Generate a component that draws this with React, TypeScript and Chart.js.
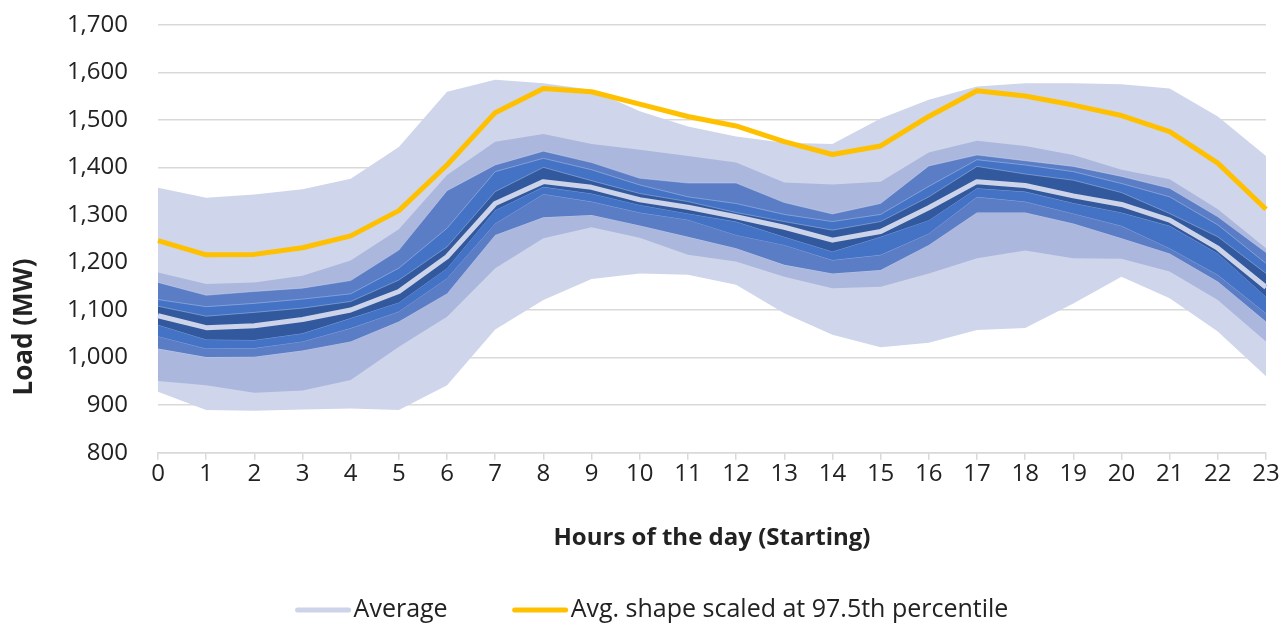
import React, { useEffect, useRef } from 'react';
import { Chart, registerables } from 'chart.js';

Chart.register(...registerables);

// ---------- data ----------
const hours = ['0','1','2','3','4','5','6','7','8','9','10','11','12','13','14','15','16','17','18','19','20','21','22','23'];

const band1Upper = [1357,1336,1343,1354,1376,1443,1559,1584,1577,1563,1518,1486,1465,1452,1449,1503,1542,1570,1577,1577,1575,1566,1507,1424];
const band2Upper = [1179,1155,1158,1172,1204,1270,1384,1454,1470,1449,1437,1424,1410,1368,1364,1370,1431,1456,1445,1426,1395,1375,1312,1230];
const band3Upper = [1158,1131,1139,1146,1162,1226,1351,1405,1434,1410,1377,1367,1367,1326,1302,1324,1403,1426,1414,1402,1381,1356,1296,1221];
const band4Upper = [1122,1107,1114,1123,1134,1188,1272,1391,1419,1395,1363,1338,1324,1301,1286,1301,1360,1416,1405,1391,1366,1338,1279,1198];
const band5Upper = [1108,1087,1095,1104,1118,1163,1233,1349,1400,1372,1345,1328,1305,1286,1268,1286,1338,1402,1386,1373,1347,1303,1254,1177];
const band5Lower = [1069,1038,1037,1051,1083,1116,1188,1310,1359,1345,1321,1303,1286,1254,1223,1254,1289,1356,1349,1325,1305,1277,1219,1128];
const band4Lower = [1045,1019,1020,1034,1062,1097,1167,1282,1344,1328,1305,1290,1258,1237,1205,1216,1261,1338,1328,1303,1277,1230,1174,1093];
const band3Lower = [1019,1001,1002,1015,1034,1076,1135,1258,1295,1300,1278,1254,1230,1195,1177,1184,1237,1305,1305,1282,1251,1219,1160,1076];
const band2Lower = [951,942,926,931,953,1023,1086,1188,1251,1274,1252,1216,1202,1170,1146,1149,1177,1209,1225,1209,1208,1181,1121,1034];
const band1Lower = [928,890,888,891,893,890,942,1059,1121,1165,1177,1174,1153,1093,1048,1022,1031,1058,1062,1114,1170,1125,1055,961];

const average = [1088,1063,1067,1080,1100,1139,1212,1324,1370,1358,1332,1316,1296,1274,1247,1265,1315,1370,1362,1340,1322,1289,1230,1148];
const scaledPeak = [1246,1216,1217,1231,1256,1309,1405,1515,1566,1559,1533,1507,1487,1454,1427,1445,1507,1561,1550,1531,1509,1475,1409,1312];

const seriesLabels = ['Average', 'Avg. shape scaled at 97.5th percentile'];
const xTitle = 'Hours of the day (Starting)';
const yTitle = 'Load (MW)';

// ---------- styling ----------
const FONT = '"Open Sans", sans-serif';
const TEXT = '#222222';
const GRID = '#D9D9D9';
const C1 = '#CFD5EA';
const C2 = '#ABB7DD';
const C3 = '#5A7DC6';
const C4 = '#4472C4';
const C5 = '#32599E';
const AVG = '#CDD4EA';
const YEL = '#FFC000';
const EDGE = 'rgba(225,232,248,0.45)';

const W = 1284;
const H = 623;

function bandPair(upper: number[], lower: number[], color: string, lowerIndex: number, order: number, edge: boolean) {
  return [
    {
      label: 'band',
      data: upper,
      borderColor: edge ? EDGE : 'transparent',
      borderWidth: edge ? 0.8 : 0,
      backgroundColor: color,
      fill: lowerIndex,
      pointRadius: 0,
      tension: 0,
      order,
    },
    {
      label: 'band',
      data: lower,
      borderColor: edge ? EDGE : 'transparent',
      borderWidth: edge ? 0.8 : 0,
      backgroundColor: color,
      fill: false,
      pointRadius: 0,
      tension: 0,
      order,
    },
  ];
}

const legendPlugin = {
  id: 'customLegend',
  afterDraw(chart: any) {
    const ctx = chart.ctx;
    const ds = chart.data.datasets;
    const items = [ds[1], ds[0]];
    ctx.save();
    ctx.font = `25px ${FONT}`;
    const sample = 55, gapText = 3, gapItem = 65;
    const widths = items.map((it: any) => sample + gapText + ctx.measureText(it.label).width);
    const total = widths.reduce((a: number, b: number) => a + b, 0) + gapItem * (items.length - 1);
    let x = 652 - total / 2;
    const y = 610;
    items.forEach((it: any, i: number) => {
      ctx.beginPath();
      ctx.strokeStyle = it.borderColor;
      ctx.lineWidth = 5;
      ctx.lineCap = 'round';
      ctx.moveTo(x + 2, y);
      ctx.lineTo(x + sample - 2, y);
      ctx.stroke();
      ctx.fillStyle = TEXT;
      ctx.textAlign = 'left';
      ctx.textBaseline = 'middle';
      ctx.fillText(it.label, x + sample + gapText, y);
      x += widths[i] + gapItem;
    });
    ctx.restore();
  },
};

const yTitlePlugin = {
  id: 'yTitle',
  afterDraw(chart: any) {
    const ctx = chart.ctx;
    ctx.save();
    ctx.translate(24.4, 327);
    ctx.rotate(-Math.PI / 2);
    ctx.font = `bold 26px ${FONT}`;
    ctx.fillStyle = TEXT;
    ctx.textAlign = 'center';
    ctx.textBaseline = 'middle';
    ctx.fillText(yTitle, 0, 0);
    ctx.restore();
  },
};

export default function App() {
  const ref = useRef<HTMLCanvasElement | null>(null);

  useEffect(() => {
    if (!ref.current) return;
    const datasets: any[] = [
      {
        label: seriesLabels[1],
        data: scaledPeak,
        borderColor: YEL,
        backgroundColor: YEL,
        borderWidth: 5,
        borderJoinStyle: 'round',
        pointRadius: 0,
        fill: false,
        tension: 0,
        order: 0,
      },
      {
        label: seriesLabels[0],
        data: average,
        borderColor: AVG,
        backgroundColor: AVG,
        borderWidth: 5,
        borderJoinStyle: 'round',
        pointRadius: 0,
        fill: false,
        tension: 0,
        order: 1,
      },
      ...bandPair(band5Upper, band5Lower, C5, 3, 2, true),
      ...bandPair(band4Upper, band4Lower, C4, 5, 3, true),
      ...bandPair(band3Upper, band3Lower, C3, 7, 4, true),
      ...bandPair(band2Upper, band2Lower, C2, 9, 5, false),
      ...bandPair(band1Upper, band1Lower, C1, 11, 6, false),
    ];

    const chart = new Chart(ref.current, {
      type: 'line',
      data: { labels: hours, datasets },
      plugins: [legendPlugin, yTitlePlugin],
      options: {
        animation: false,
        responsive: false,
        devicePixelRatio: 1,
        events: [],
        layout: { padding: { top: 24.7, right: 18, bottom: 70.3, left: 0 } },
        plugins: {
          legend: { display: false },
          tooltip: { enabled: false },
          filler: { propagate: false },
        },
        scales: {
          x: {
            type: 'category',
            offset: false,
            grid: { drawOnChartArea: false, drawTicks: true, tickLength: 7, color: GRID, lineWidth: 1.5 },
            border: { display: true, color: GRID, width: 1.5 },
            ticks: { font: { family: FONT, size: 24 }, color: TEXT, padding: 0, maxRotation: 0, autoSkip: false },
            title: {
              display: true,
              text: xTitle,
              font: { family: FONT, size: 24, weight: 'bold' },
              color: TEXT,
              padding: { top: 0, bottom: 0 },
            },
            afterFit: (s: any) => { s.height = 100; s.paddingLeft = 0; s.paddingRight = 0; },
          },
          y: {
            min: 800,
            max: 1700,
            grid: { color: GRID, lineWidth: 1.5, drawTicks: false },
            border: { display: false },
            ticks: {
              stepSize: 100,
              padding: 30,
              font: { family: FONT, size: 24 },
              color: TEXT,
              callback: (v: any) => Number(v).toLocaleString('en-US'),
            },
            afterFit: (s: any) => { s.width = 158; s.paddingTop = 0; s.paddingBottom = 0; },
          },
        },
      } as any,
    });
    return () => chart.destroy();
  }, []);

  return (
    <div style={{ width: W, height: H, overflow: 'hidden' }}>
      <style>{'html,body{margin:0;padding:0;overflow:hidden;}'}</style>
      <canvas ref={ref} width={W} height={H} style={{ display: 'block' }} />
    </div>
  );
}
